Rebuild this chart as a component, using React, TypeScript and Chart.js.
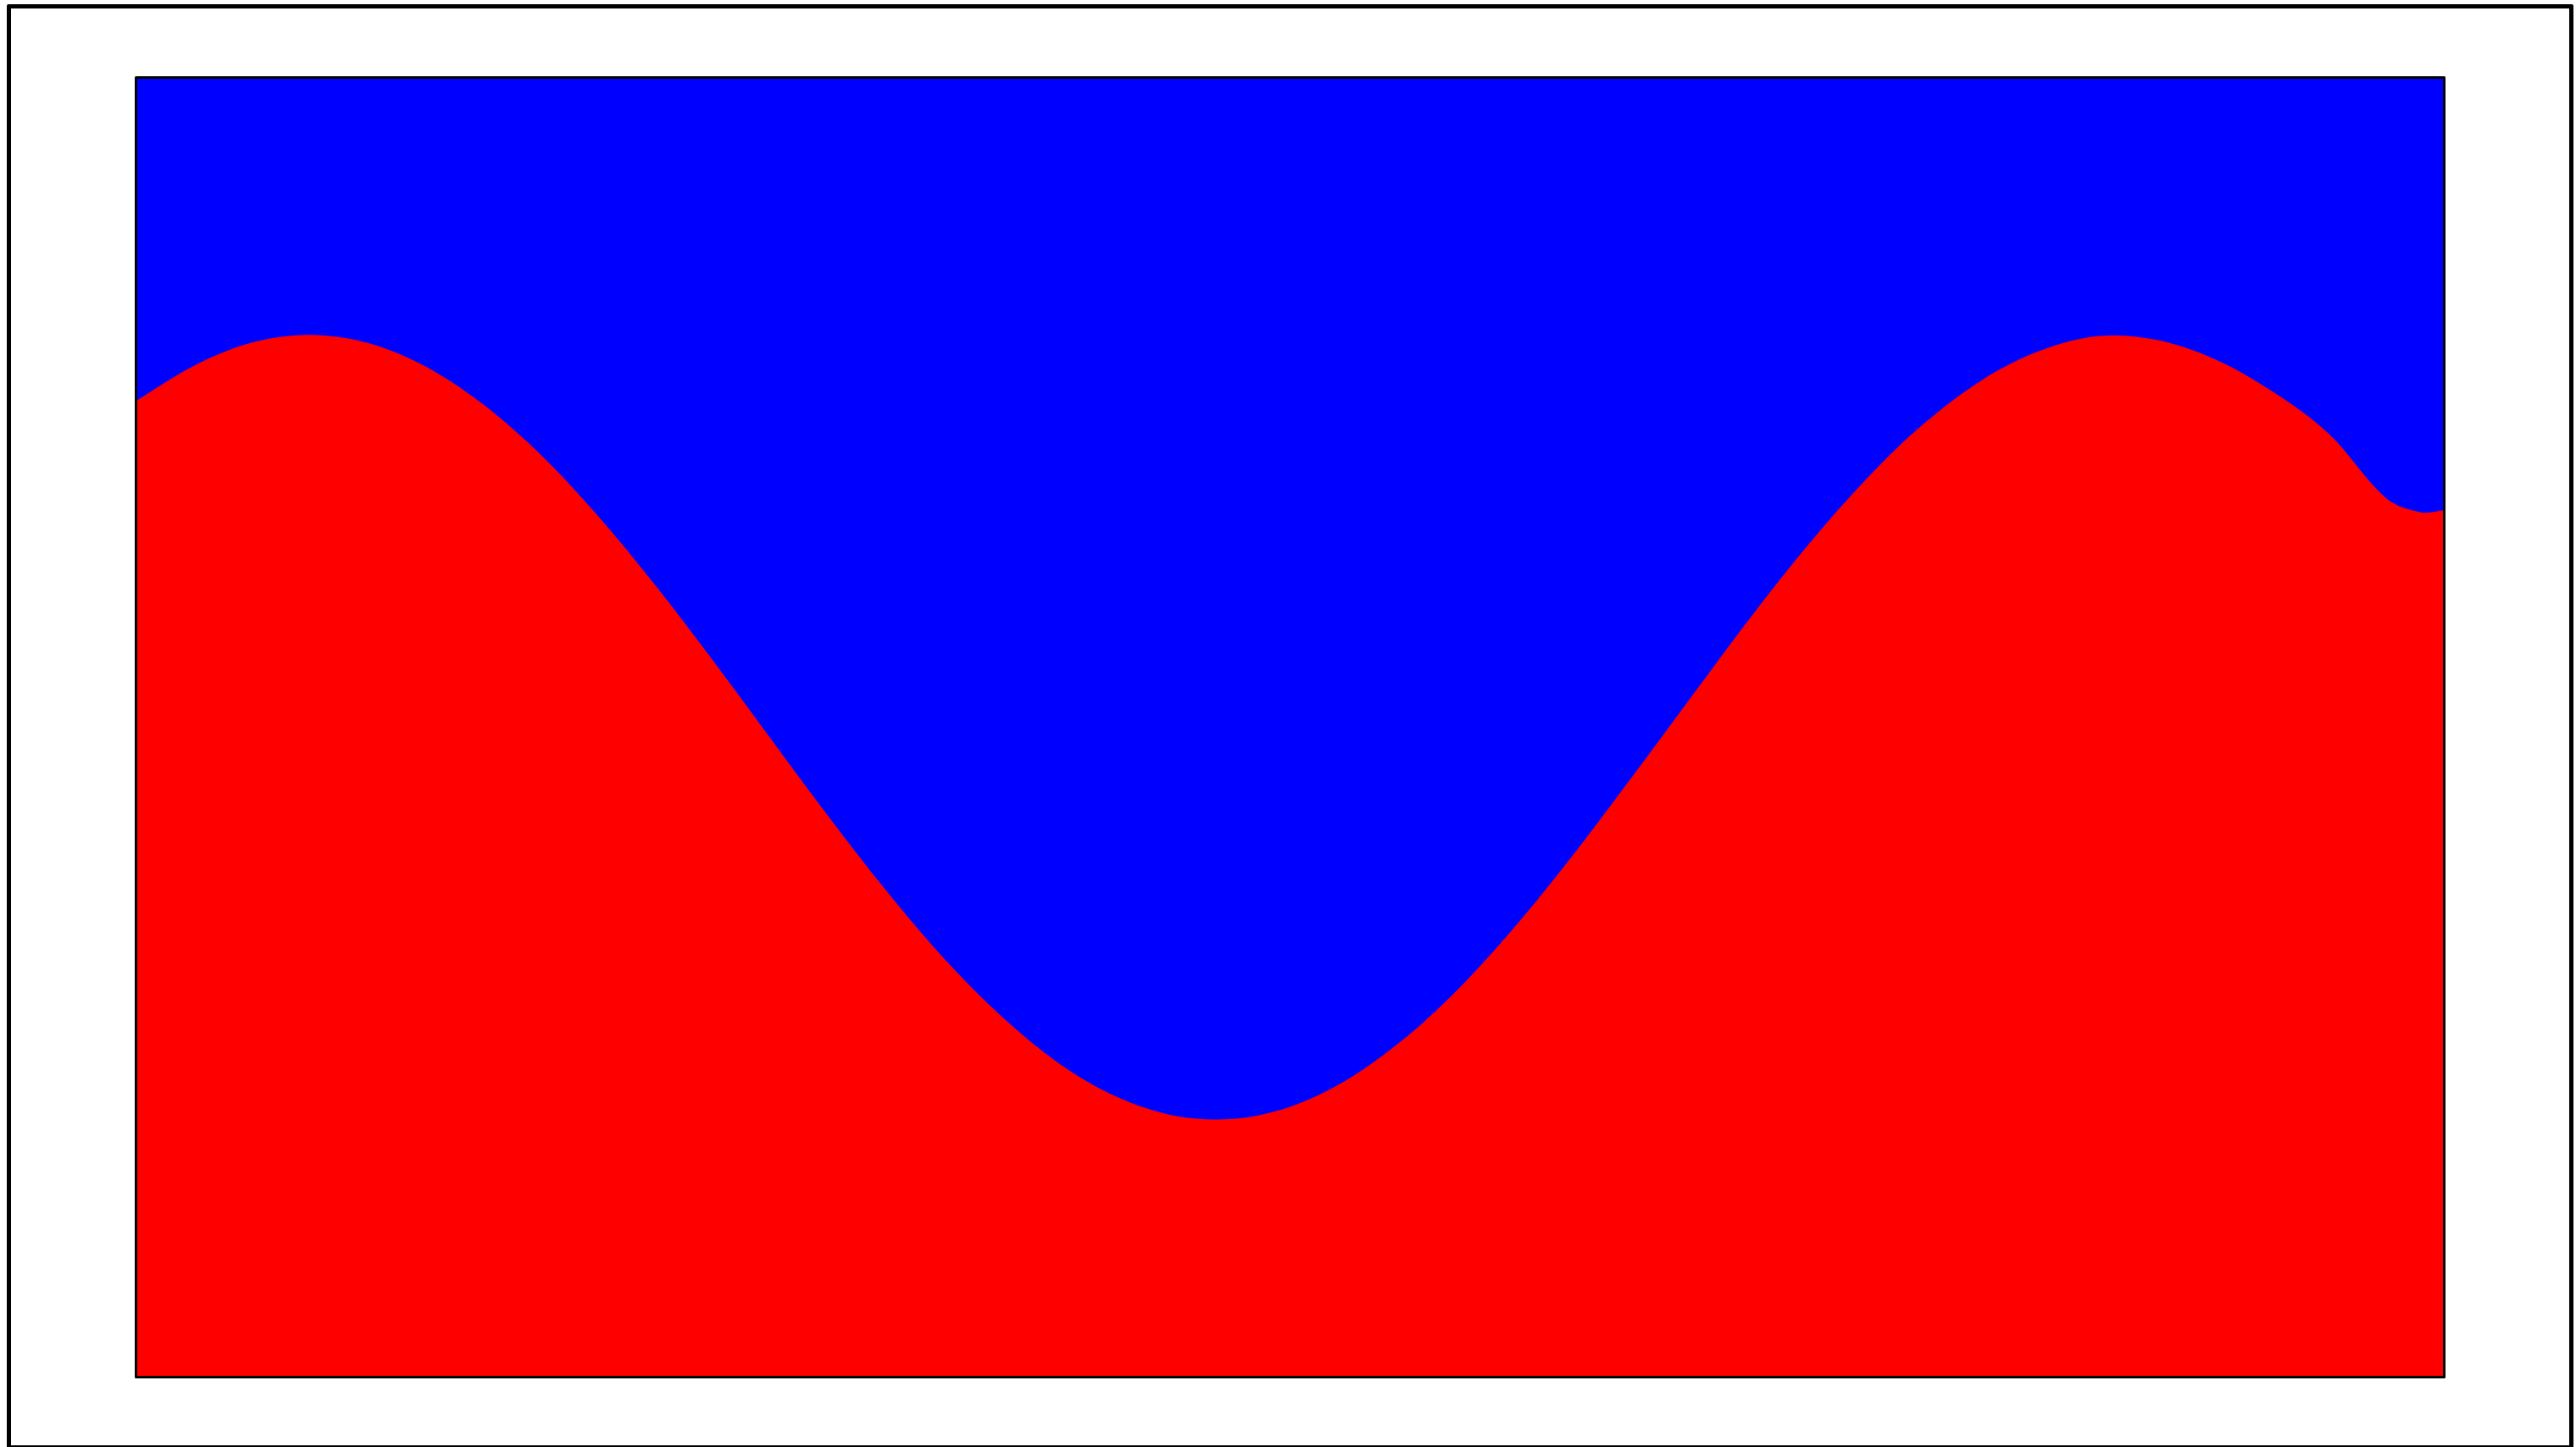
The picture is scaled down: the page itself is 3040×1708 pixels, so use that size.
import React, { useEffect, useRef } from "react";
import { Chart, registerables } from "chart.js";

Chart.register(...registerables);

// x positions (arbitrary units across the plot) and curve values
const xValues = [
  0, 0.2, 0.4, 0.6, 0.8, 1.0, 1.2, 1.4, 1.6, 1.8, 2.0, 2.2, 2.4, 2.6, 2.8, 3.0,
  3.2, 3.4, 3.6, 3.8, 4.0, 4.2, 4.4, 4.6, 4.8, 5.0, 5.2, 5.4, 5.6, 5.8, 6.0, 6.2,
  6.4, 6.6, 6.8, 7.0, 7.2, 7.4, 7.6, 7.8, 7.92, 8.0,
];
const yValues = [
  0.832, 0.921, 0.98, 1.0, 0.98, 0.921, 0.825, 0.697, 0.54, 0.362, 0.17, -0.029,
  -0.227, -0.416, -0.589, -0.737, -0.857, -0.942, -0.99, -0.998, -0.967, -0.897,
  -0.791, -0.654, -0.49, -0.307, -0.112, 0.087, 0.284, 0.469, 0.635, 0.776,
  0.886, 0.96, 0.997, 0.988, 0.94, 0.858, 0.748, 0.583, 0.548, 0.553,
];
const xRange = [0, 8];
const yRange = [-1.656, 1.656];

const plotBorder = {
  id: "plotBorder",
  afterDraw(chart: any) {
    const { ctx, chartArea } = chart;
    ctx.save();
    ctx.strokeStyle = "#000";
    ctx.lineWidth = 3;
    ctx.lineJoin = "round";
    ctx.strokeRect(
      chartArea.left,
      chartArea.top,
      chartArea.right - chartArea.left,
      chartArea.bottom - chartArea.top
    );
    ctx.restore();
  },
};

export default function App() {
  const ref = useRef<HTMLCanvasElement | null>(null);

  useEffect(() => {
    if (!ref.current) return;
    const points = xValues.map((x, i) => ({ x, y: yValues[i] }));
    const chart = new Chart(ref.current, {
      type: "line",
      data: {
        datasets: [
          {
            data: points.map((p) => ({ ...p })),
            fill: "end",
            backgroundColor: "#0000ff",
            borderWidth: 1,
            borderColor: "rgba(0,0,0,0)",
            pointRadius: 0,
            tension: 0.33,
          },
          {
            data: points.map((p) => ({ ...p })),
            fill: "start",
            backgroundColor: "#ff0000",
            borderColor: "#ff0000",
            borderWidth: 2,
            pointRadius: 0,
            tension: 0.33,
          },
        ],
      },
      options: {
        responsive: false,
        animation: false,
        layout: {
          padding: { left: 147.5, right: 147.5, top: 81.5, bottom: 80.5 },
        },
        plugins: {
          legend: { display: false },
          tooltip: { enabled: false },
        },
        scales: {
          x: { type: "linear", min: xRange[0], max: xRange[1], display: false },
          y: { type: "linear", min: yRange[0], max: yRange[1], display: false },
        },
      },
      plugins: [plotBorder],
    });
    return () => chart.destroy();
  }, []);

  return (
    <div
      style={{
        position: "fixed",
        left: 8,
        top: 5,
        width: 3029,
        height: 1706,
        boxSizing: "border-box",
        border: "5px solid #000",
        borderRadius: 2,
        background: "#fff",
      }}
    >
      <canvas
        ref={ref}
        width={3019}
        height={1696}
        style={{ display: "block", width: 3019, height: 1696 }}
      />
    </div>
  );
}
